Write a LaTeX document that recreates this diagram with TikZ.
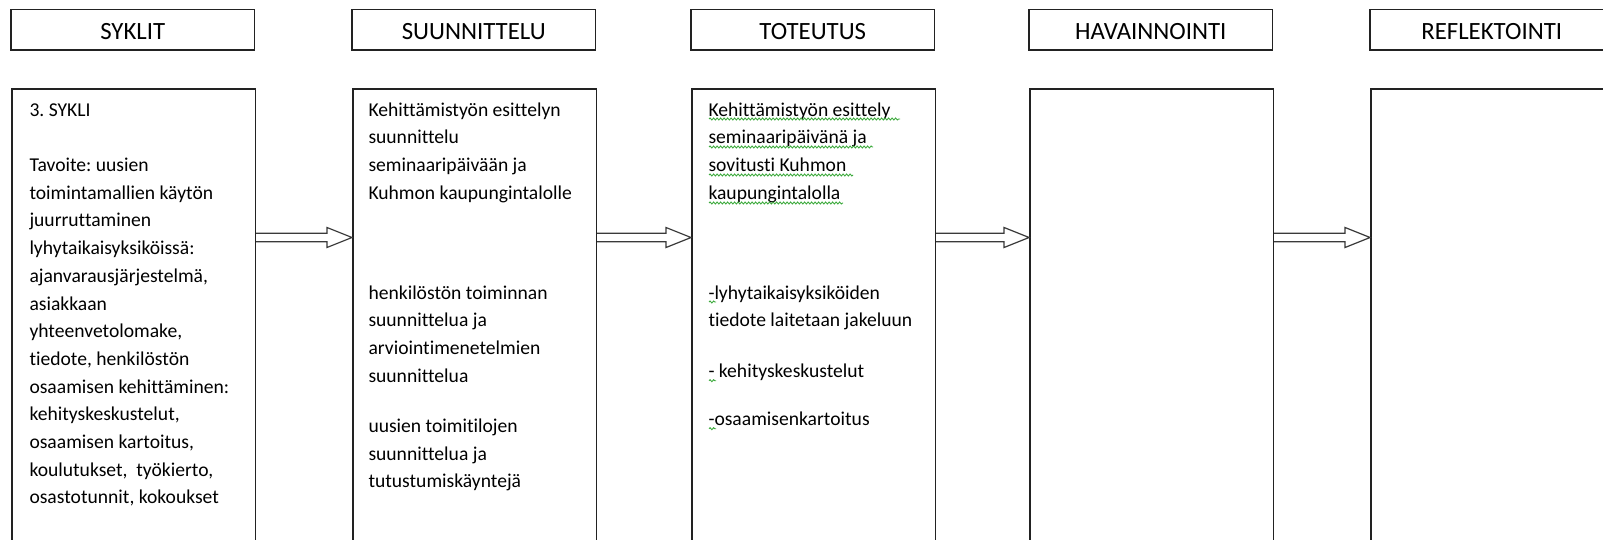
\documentclass[tikz,border=0pt]{standalone}
\usepackage{fontspec}
\setmainfont{Carlito}[Ligatures=NoCommon]
\usetikzlibrary{calc,decorations.pathmorphing}
\definecolor{boxline}{HTML}{222222}
\definecolor{arrline}{HTML}{3A3A3A}
\definecolor{squig}{HTML}{3CAA3C}
\newcommand\firstln{\rule{0pt}{20pt}}
\begin{document}
\frenchspacing
\begin{tikzpicture}[x=1pt,y=-1pt,
  hdrbox/.style={draw=boxline, line width=1.5pt, minimum width=243.5pt, minimum height=40.5pt, inner sep=0pt, text height=20.6pt, text depth=0pt, font=\fontsize{24.8}{28}\selectfont},
  colbox/.style={draw=boxline, line width=1.5pt, minimum width=243.5pt, minimum height=600pt, inner sep=0pt, anchor=north west},
  bodytext/.style={anchor=north west, align=left, inner sep=0pt, font=\fontsize{19.6}{27.7}\selectfont},
  barrow/.style={draw=arrline, line width=1.2pt, line join=miter},
  squiggle/.style={draw=squig, line width=0.9pt, decorate, decoration={snake, amplitude=1pt, segment length=3.5pt}}]
\useasboundingbox (0,0) rectangle (1603,540);
\fill[white] (0,0) rectangle (1603,540);

% headers
\node[hdrbox] (h1) at (132.75,29.55) {SYKLIT};
\node[hdrbox] (h2) at (473.75,29.55) {SUUNNITTELU};
\node[hdrbox] (h3) at (812.75,29.55) {TOTEUTUS};
\node[hdrbox] (h4) at (1150.75,29.55) {HAVAINNOINTI};
\node[hdrbox] (h5) at (1491.75,29.55) {REFLEKTOINTI};

% column boxes
\node[colbox] (c1) at (11,88.5) {};
\node[colbox] (c2) at (352,88.5) {};
\node[colbox] (c3) at (691,88.5) {};
\node[colbox] (c4) at (1029,88.5) {};
\node[colbox] (c5) at (1370,88.5) {};

% block arrows
\foreach \a/\b in {c1/c2,c2/c3,c3/c4,c4/c5}{
  \draw[barrow] let \p1=(\a.north east), \p2=(\b.north west) in
    (\x1,\y1-144.8pt) -- (\x2-25pt,\y1-144.8pt) -- (\x2-25pt,\y1-139pt) -- (\x2,\y1-149pt)
    -- (\x2-25pt,\y1-159pt) -- (\x2-25pt,\y1-153.2pt) -- (\x1,\y1-153.2pt);
}

% column 1 text (first baseline = y + 20)
\node[bodytext] (t1) at (29.3,96) {\firstln 3. SYKLI\\[27.6pt]Tavoite: uusien\\toimintamallien käytön\\juurruttaminen\\lyhytaikaisyksiköissä:\\ajanvarausjärjestelmä,\\asiakkaan\\yhteenvetolomake,\\tiedote, henkilöstön\\osaamisen kehittäminen:\\kehityskeskustelut,\\osaamisen kartoitus,\\koulutukset,\ \ työkierto,\\osastotunnit, kokoukset};

% column 2 text
\node[bodytext] (t2a) at (368.3,96) {\firstln Kehittämistyön esittelyn\\suunnittelu\\seminaaripäivään ja\\Kuhmon kaupungintalolle};
\node[bodytext] (t2b) at (368.3,279) {\firstln henkilöstön toiminnan\\suunnittelua ja\\arviointimenetelmien\\suunnittelua};
\node[bodytext] (t2c) at (368.3,412.3) {\firstln uusien toimitilojen\\suunnittelua ja\\tutustumiskäyntejä};

% column 3 text
\node[bodytext] (t3a) at (708.3,96) {\firstln Kehittämistyön esittely\\seminaaripäivänä ja\\sovitusti Kuhmon\\kaupungintalolla};
\node[bodytext] (t3b) at (708.3,279) {\firstln -lyhytaikaisyksiköiden\\tiedote laitetaan jakeluun};
\node[bodytext] (t3c) at (708.3,357.7) {\firstln - kehityskeskustelut};
\node[bodytext] (t3d) at (708.3,405.7) {\firstln -osaamisenkartoitus};

% grammar squiggles
\draw[squiggle] (709,119) -- (900,119);
\draw[squiggle] (709,147) -- (873,147);
\draw[squiggle] (709,175) -- (853,175);
\draw[squiggle] (709,203) -- (843,203);
\draw[squiggle] (709,302) -- (716,302);
\draw[squiggle] (709,380.7) -- (716,380.7);
\draw[squiggle] (709,428.7) -- (716,428.7);
\end{tikzpicture}
\end{document}
